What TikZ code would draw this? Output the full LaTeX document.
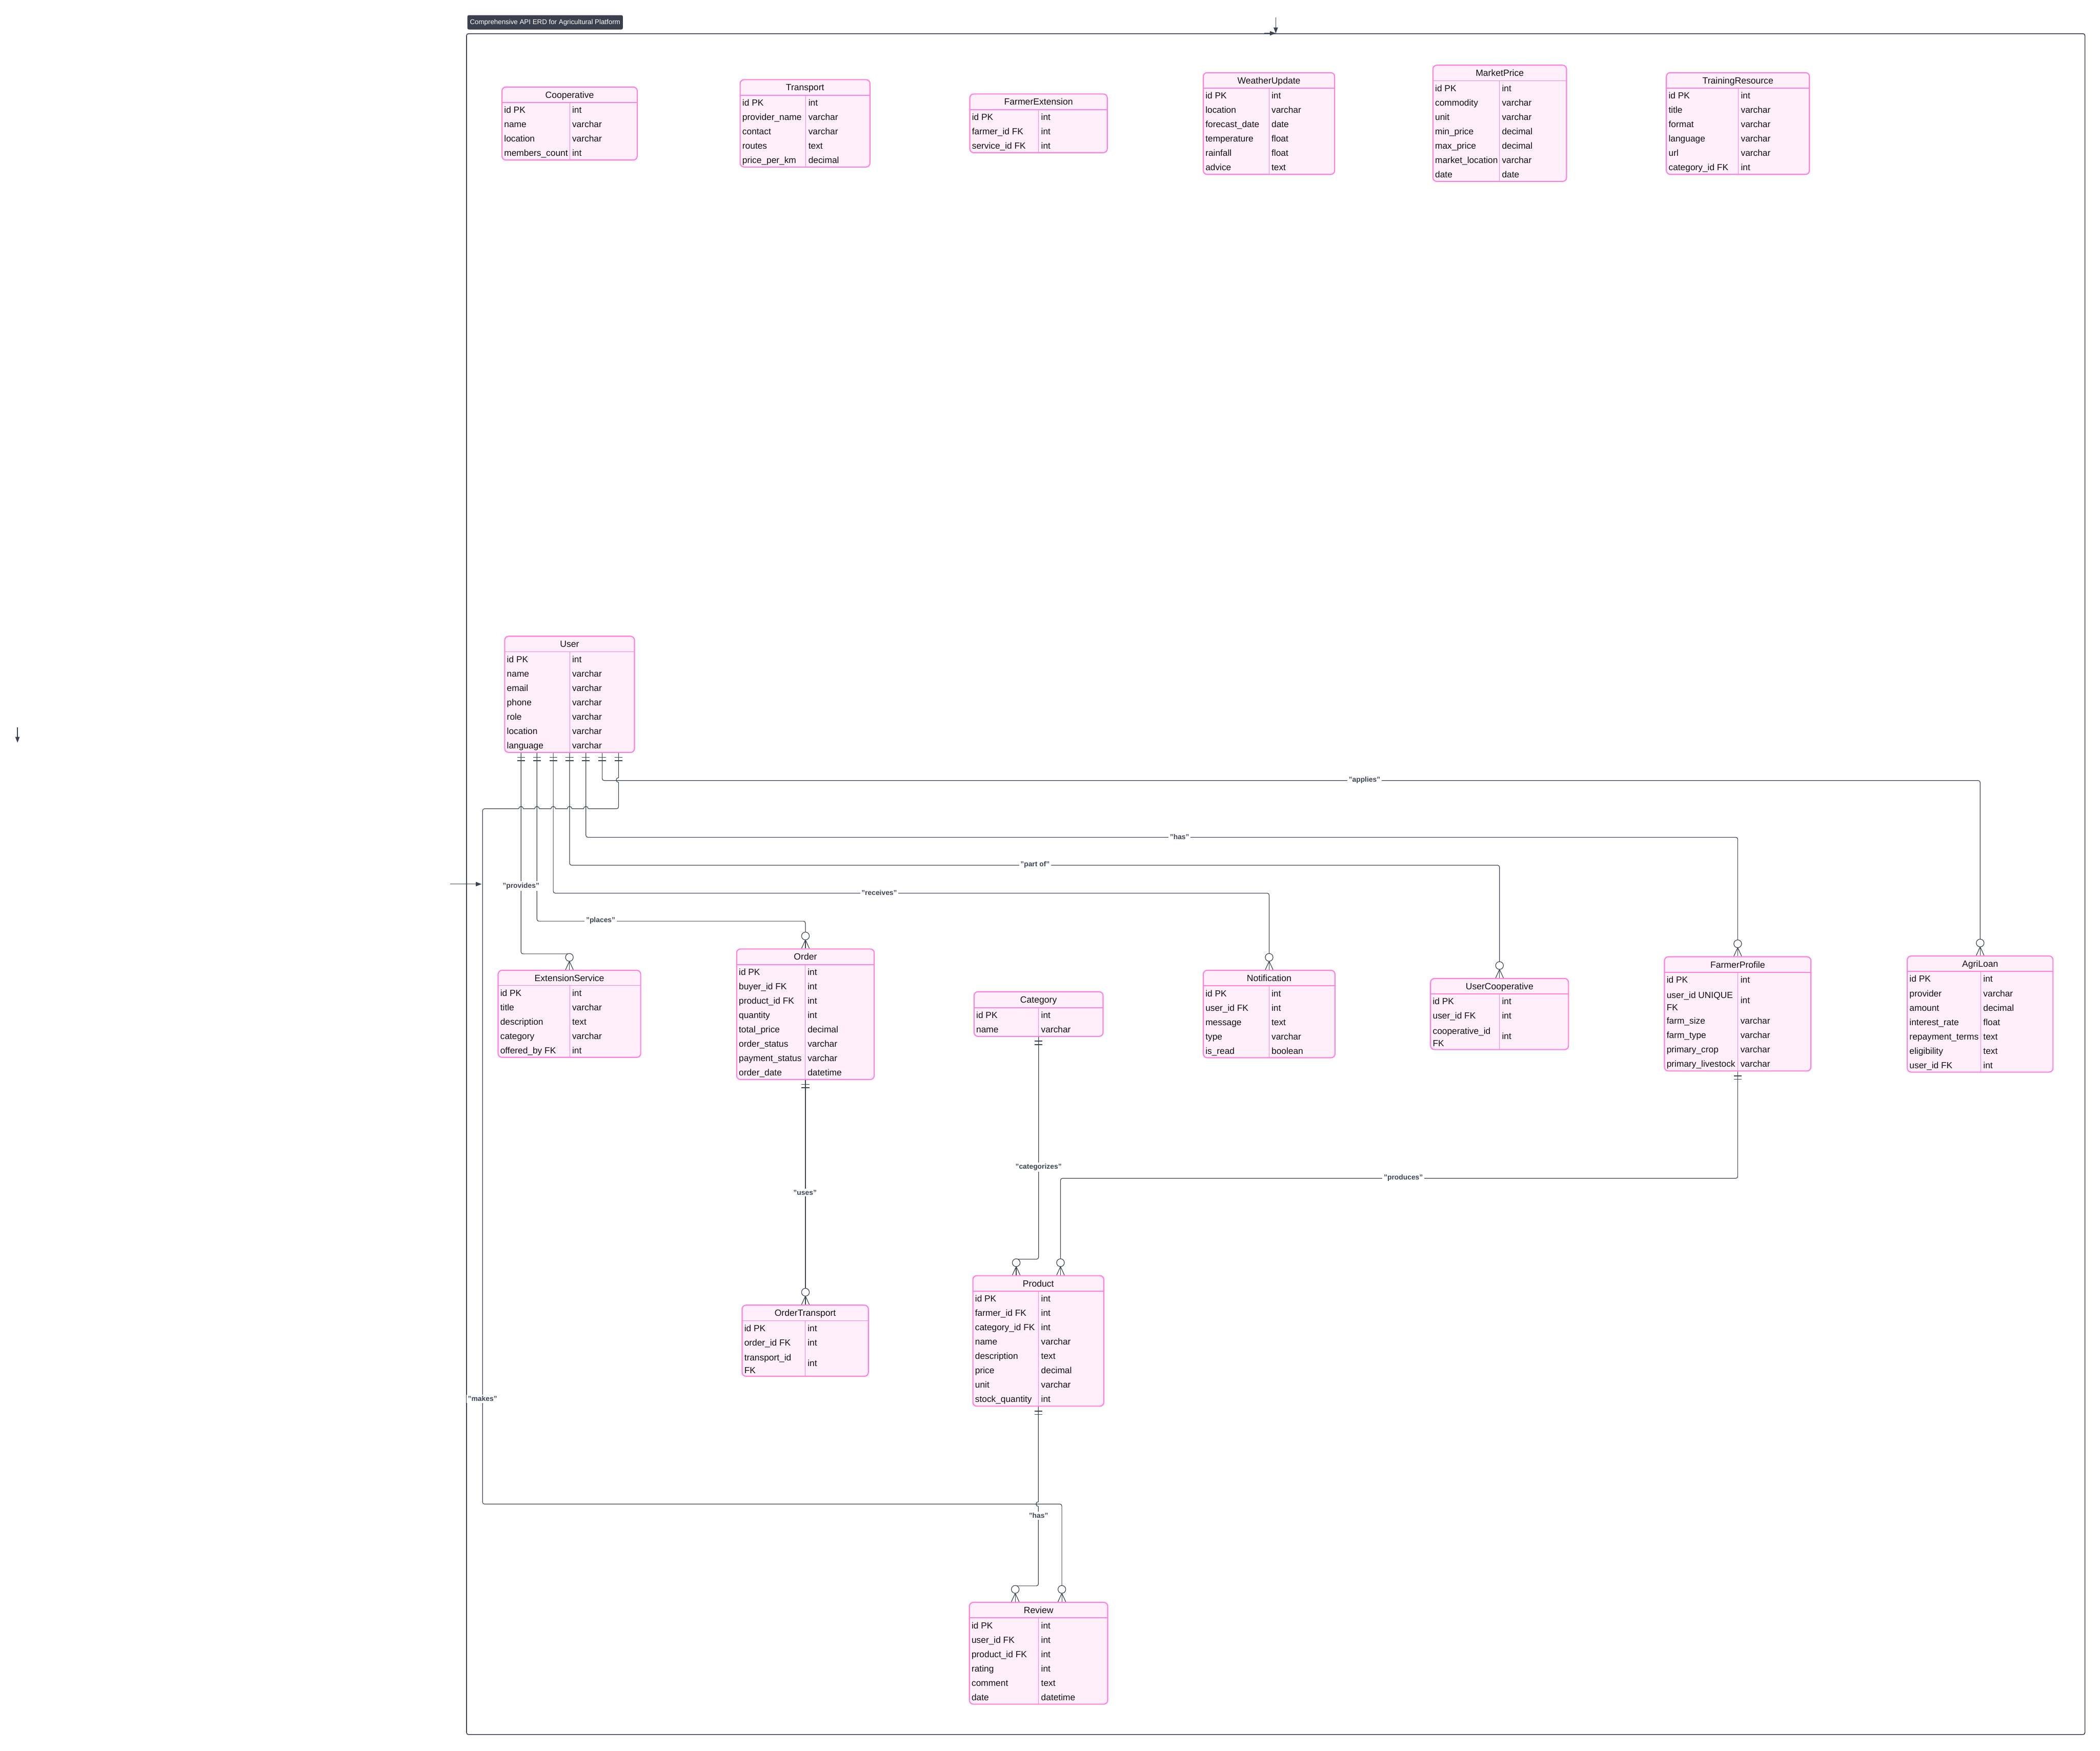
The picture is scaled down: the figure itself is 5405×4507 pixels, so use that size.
\documentclass[tikz,border=0pt]{standalone}
\usepackage{fontspec}
\setmainfont{Liberation Sans}
\usetikzlibrary{arrows.meta,calc}
\definecolor{entfill}{RGB}{255,239,250}
\definecolor{entline}{RGB}{255,128,222}
\definecolor{connc}{RGB}{59,66,82}
\definecolor{txt}{RGB}{15,15,15}
\definecolor{titlefill}{RGB}{59,64,76}
\tikzset{
  entbox/.style={draw=entline, fill=entfill, line width=0.8pt, rounded corners=0.1cm, inner sep=0pt},
  hdrline/.style={draw=entline, line width=0.65pt},
  divline/.style={draw=entline, line width=0.35pt},
  etitle/.style={font=\fontsize{6.6}{8}\selectfont, text=txt, inner sep=0pt, text height=4.7pt, text depth=1.3pt},
  ecell/.style={font=\fontsize{6.5}{8}\selectfont, text=txt, anchor=west, inner sep=0pt, text height=4.6pt, text depth=1.3pt},
  ecelltwo/.style={font=\fontsize{6.5}{9.1}\selectfont, text=txt, anchor=west, inner sep=0pt, align=left},
  conn/.style={draw=connc, line width=0.45pt},
  barmark/.style={draw=connc, line width=0.6pt},
  elabel/.style={font=\bfseries\fontsize{5.2}{6}\selectfont, text=connc, fill=white, inner sep=1pt},
  framebox/.style={draw=connc, line width=0.6pt, rounded corners=0.05cm, inner sep=0pt},
  titlebox/.style={fill=titlefill, text=white, rounded corners=0.04cm, inner sep=0pt, font=\fontsize{5}{6}\selectfont},
  arr/.style={draw=connc, line width=0.5pt, -{Triangle[length=0.15cm,width=0.11cm]}},
}
\newcommand\erent[9]{%
  \pgfmathsetmacro\eW{(#3-#2)*0.01}%
  \pgfmathsetmacro\eH{(#6-#4)*0.01}%
  \node[entbox, minimum width=\eW cm, minimum height=\eH cm] (#1) at ({(#2+#3)/2},{(#4+#6)/2}) {};
  \draw[hdrline] (#2,#5) -- (#3,#5);
  \draw[divline] (#7,#5) -- (#7,#6);
  \node[etitle] (#1-title) at ({(#2+#3)/2},{(#4+#5)/2+2.5}) {#8};
  \xdef\rowy{#5}%
  \foreach \na/\ty/\hh [count=\ri] in {#9}{%
    \ifnum\hh=1
      \pgfmathsetmacro\rc{\rowy+21.5}%
      \pgfmathsetmacro\rn{\rowy+37}%
      \node[ecell] (#1-n\ri) at ({#2+5},\rc) {\na};
      \node[ecell] (#1-t\ri) at ({#7+6},\rc) {\ty};
    \else
      \pgfmathsetmacro\rc{\rowy+37}%
      \pgfmathsetmacro\rn{\rowy+69}%
      \node[ecelltwo] (#1-n\ri) at ({#2+5},\rc) {\na};
      \node[ecell] (#1-t\ri) at ({#7+6},\rc) {\ty};
    \fi
    \xdef\rowy{\rn}%
  }%
}
\newcommand\crowfoot[1]{%
  \draw[conn] ($(#1)+(0,-22)$) -- ($(#1)+(-10,0)$);
  \draw[conn] ($(#1)+(0,-22)$) -- (#1);
  \draw[conn] ($(#1)+(0,-22)$) -- ($(#1)+(10,0)$);
  \draw[conn, fill=white] ($(#1)+(0,-32)$) circle[radius=0.1cm];
}
\newcommand\onebar[1]{%
  \draw[barmark] ($(#1)+(-10,11)$) -- ($(#1)+(10,11)$);
  \draw[barmark] ($(#1)+(-10,20)$) -- ($(#1)+(10,20)$);
}
\begin{document}
\begin{tikzpicture}[x=0.01cm,y=-0.01cm]
\useasboundingbox (0,0) rectangle (5405,4507);
% frame and title
\node[framebox, minimum width=41.63cm, minimum height=43.76cm] (frame) at (3283.5,2276) {};
\node[titlebox, minimum width=4cm, minimum height=0.37cm] (title) at (1403,57.5) {Comprehensive API ERD for Agricultural Platform};

% entities
\erent{coop}{1292}{1640}{224}{264}{412}{1466}{Cooperative}{id PK/int/1, name/varchar/1, location/varchar/1, members\_count/int/1}
\erent{transport}{1905}{2239}{205}{245}{430}{2074}{Transport}{id PK/int/1, provider\_name/varchar/1, contact/varchar/1, routes/text/1, price\_per\_km/decimal/1}
\erent{farmext}{2496}{2850}{242}{282}{393}{2673}{FarmerExtension}{id PK/int/1, farmer\_id FK/int/1, service\_id FK/int/1}
\erent{weather}{3097}{3435}{187}{227}{449}{3266}{WeatherUpdate}{id PK/int/1, location/varchar/1, forecast\_date/date/1, temperature/float/1, rainfall/float/1, advice/text/1}
\erent{market}{3688}{4032}{168}{208}{467}{3859}{MarketPrice}{id PK/int/1, commodity/varchar/1, unit/varchar/1, min\_price/decimal/1, max\_price/decimal/1, market\_location/varchar/1, date/date/1}
\erent{training}{4289}{4657}{187}{227}{449}{4474}{TrainingResource}{id PK/int/1, title/varchar/1, format/varchar/1, language/varchar/1, url/varchar/1, category\_id FK/int/1}
\erent{user}{1299}{1633}{1638}{1678}{1937}{1466}{User}{id PK/int/1, name/varchar/1, email/varchar/1, phone/varchar/1, role/varchar/1, location/varchar/1, language/varchar/1}
\erent{extsvc}{1282}{1649}{2498}{2537}{2722}{1466}{ExtensionService}{id PK/int/1, title/varchar/1, description/text/1, category/varchar/1, offered\_by FK/int/1}
\erent{order}{1896}{2250}{2443}{2483}{2779}{2072}{Order}{id PK/int/1, buyer\_id FK/int/1, product\_id FK/int/1, quantity/int/1, total\_price/decimal/1, order\_status/varchar/1, payment\_status/varchar/1, order\_date/datetime/1}
\erent{category}{2507}{2839}{2553}{2594}{2668}{2673}{Category}{id PK/int/1, name/varchar/1}
\erent{notif}{3097}{3436}{2498}{2538}{2723}{3266}{Notification}{id PK/int/1, user\_id FK/int/1, message/text/1, type/varchar/1, is\_read/boolean/1}
\erent{usercoop}{3682}{4037}{2519}{2559}{2702}{3859}{UserCooperative}{id PK/int/1, user\_id FK/int/1, cooperative\_id\\FK/int/2}
\erent{farmer}{4284}{4661}{2463}{2503}{2757}{4473}{FarmerProfile}{id PK/int/1, user\_id UNIQUE\\FK/int/2, farm\_size/varchar/1, farm\_type/varchar/1, primary\_crop/varchar/1, primary\_livestock/varchar/1}
\erent{agriloan}{4909}{5284}{2461}{2501}{2760}{5098}{AgriLoan}{id PK/int/1, provider/varchar/1, amount/decimal/1, interest\_rate/float/1, repayment\_terms/text/1, eligibility/text/1, user\_id FK/int/1}
\erent{ordtrans}{1910}{2235}{3360}{3400}{3543}{2072}{OrderTransport}{id PK/int/1, order\_id FK/int/1, transport\_id\\FK/int/2}
\erent{product}{2504}{2841}{3284}{3324}{3620}{2673}{Product}{id PK/int/1, farmer\_id FK/int/1, category\_id FK/int/1, name/varchar/1, description/text/1, price/decimal/1, unit/varchar/1, stock\_quantity/int/1}
\erent{review}{2495}{2851}{4125}{4165}{4387}{2673}{Review}{id PK/int/1, user\_id FK/int/1, product\_id FK/int/1, rating/int/1, comment/text/1, date/datetime/1}

% attachment points
\coordinate (u1) at ($(user.south)+(-125,0)$);
\coordinate (u2) at ($(user.south)+(-84,0)$);
\coordinate (u3) at ($(user.south)+(-42,0)$);
\coordinate (u4) at ($(user.south)+(0,0)$);
\coordinate (u5) at ($(user.south)+(42,0)$);
\coordinate (u6) at ($(user.south)+(84,0)$);
\coordinate (u7) at ($(user.south)+(126,0)$);
\coordinate (es) at (extsvc.north);
\coordinate (ord) at (order.north);
\coordinate (ntf) at (notif.north);
\coordinate (ucp) at (usercoop.north);
\coordinate (fpr) at (farmer.north);
\coordinate (agl) at (agriloan.north);
\coordinate (otr) at (order.south |- ordtrans.north);
\coordinate (pr1) at ($(product.north)+(-57,0)$);
\coordinate (pr2) at ($(product.north)+(57,0)$);
\coordinate (rv1) at ($(review.north)+(-60,0)$);
\coordinate (rv2) at ($(review.north)+(60,0)$);
\coordinate (osb) at (order.south);
\coordinate (csb) at (category.south);
\coordinate (fsb) at (farmer.south);
\coordinate (psb) at (product.south);

% connectors from User
\draw[conn, rounded corners=0.05cm] (u1) |- ($(es)+(0,-41)$);
\draw[conn, rounded corners=0.05cm] (u2) -- ++(0,433) -| ($(ord)+(0,-41)$);
\draw[conn, rounded corners=0.05cm] (u3) -- ++(0,361) -| ($(ntf)+(0,-41)$);
\draw[conn, rounded corners=0.05cm] (u4) -- ++(0,289) -| ($(ucp)+(0,-41)$);
\draw[conn, rounded corners=0.05cm] (u5) -- ++(0,217) -| ($(fpr)+(0,-41)$);
\draw[conn, rounded corners=0.05cm] (u6) -- ++(0,71) -| ($(agl)+(0,-41)$);
% makes (with line hops)
\draw[conn] (u7) -- (1592,2002) arc[start angle=90,end angle=270,radius=0.06cm];
\draw[conn, rounded corners=0.05cm] (1592,2014) -- (1592,2082) -- (1514,2082);
\draw[conn] (1514,2082) arc[start angle=0,end angle=180,radius=0.06cm] -- (1472,2082)
  arc[start angle=0,end angle=180,radius=0.06cm] -- (1430,2082)
  arc[start angle=0,end angle=180,radius=0.06cm] -- (1388,2082)
  arc[start angle=0,end angle=180,radius=0.06cm] -- (1347,2082)
  arc[start angle=0,end angle=180,radius=0.06cm];
\draw[conn, rounded corners=0.05cm] (1335,2082) -- (1242,2082) -- (1242,3872) -- (2733,3872) -- ($(rv2)+(0,-41)$);
% other connectors
\draw[conn] (osb) -- ($(otr)+(0,-41)$);
\draw[conn, rounded corners=0.05cm] (csb) |- ($(pr1)+(0,-41)$);
\draw[conn, rounded corners=0.05cm] (fsb) -- ++(0,275) -| ($(pr2)+(0,-41)$);
\draw[conn] (psb) -- (2672.5,3866) arc[start angle=90,end angle=270,radius=0.06cm];
\draw[conn, rounded corners=0.05cm] (2672.5,3878) |- ($(rv1)+(0,-41)$);

% cardinality markers
\foreach \p in {u1,u2,u3,u4,u5,u6,u7,osb,csb,fsb,psb}{\onebar{\p}}
\foreach \p in {es,ord,ntf,ucp,fpr,agl,otr,pr1,pr2,rv1,rv2}{\crowfoot{\p}}

% labels
\node[elabel] (l-provides) at (1341,2281) {"provides"};
\node[elabel] (l-places) at (1546,2370) {"places"};
\node[elabel] (l-receives) at (2263,2298) {"receives"};
\node[elabel] (l-partof) at (2664,2226) {"part of"};
\node[elabel] (l-has1) at (3036,2154) {"has"};
\node[elabel] (l-applies) at (3512,2008) {"applies"};
\node[elabel] (l-uses) at (2072,3070) {"uses"};
\node[elabel] (l-categorizes) at (2673,3005) {"categorizes"};
\node[elabel] (l-produces) at (3612,3032) {"produces"};
\node[elabel] (l-makes) at (1242,3601) {"makes"};
\node[elabel] (l-has2) at (2673,3902) {"has"};

% stray arrows
\coordinate (a1s) at (45,1872);
\coordinate (a1e) at (45,1912);
\draw[arr] (a1s) -- (a1e);
\coordinate (a2s) at ($(frame.west)+(-41,0)$);
\coordinate (a2e) at ($(frame.west)+(40,0)$);
\draw[arr] (a2s) -- (a2e);
\coordinate (a3s) at ($(frame.north)+(0,-41)$);
\draw[arr] (a3s) -- (frame.north);
\coordinate (a4s) at ($(frame.north)+(-30,0)$);
\draw[arr] (a4s) -- (frame.north);
\end{tikzpicture}
\end{document}
